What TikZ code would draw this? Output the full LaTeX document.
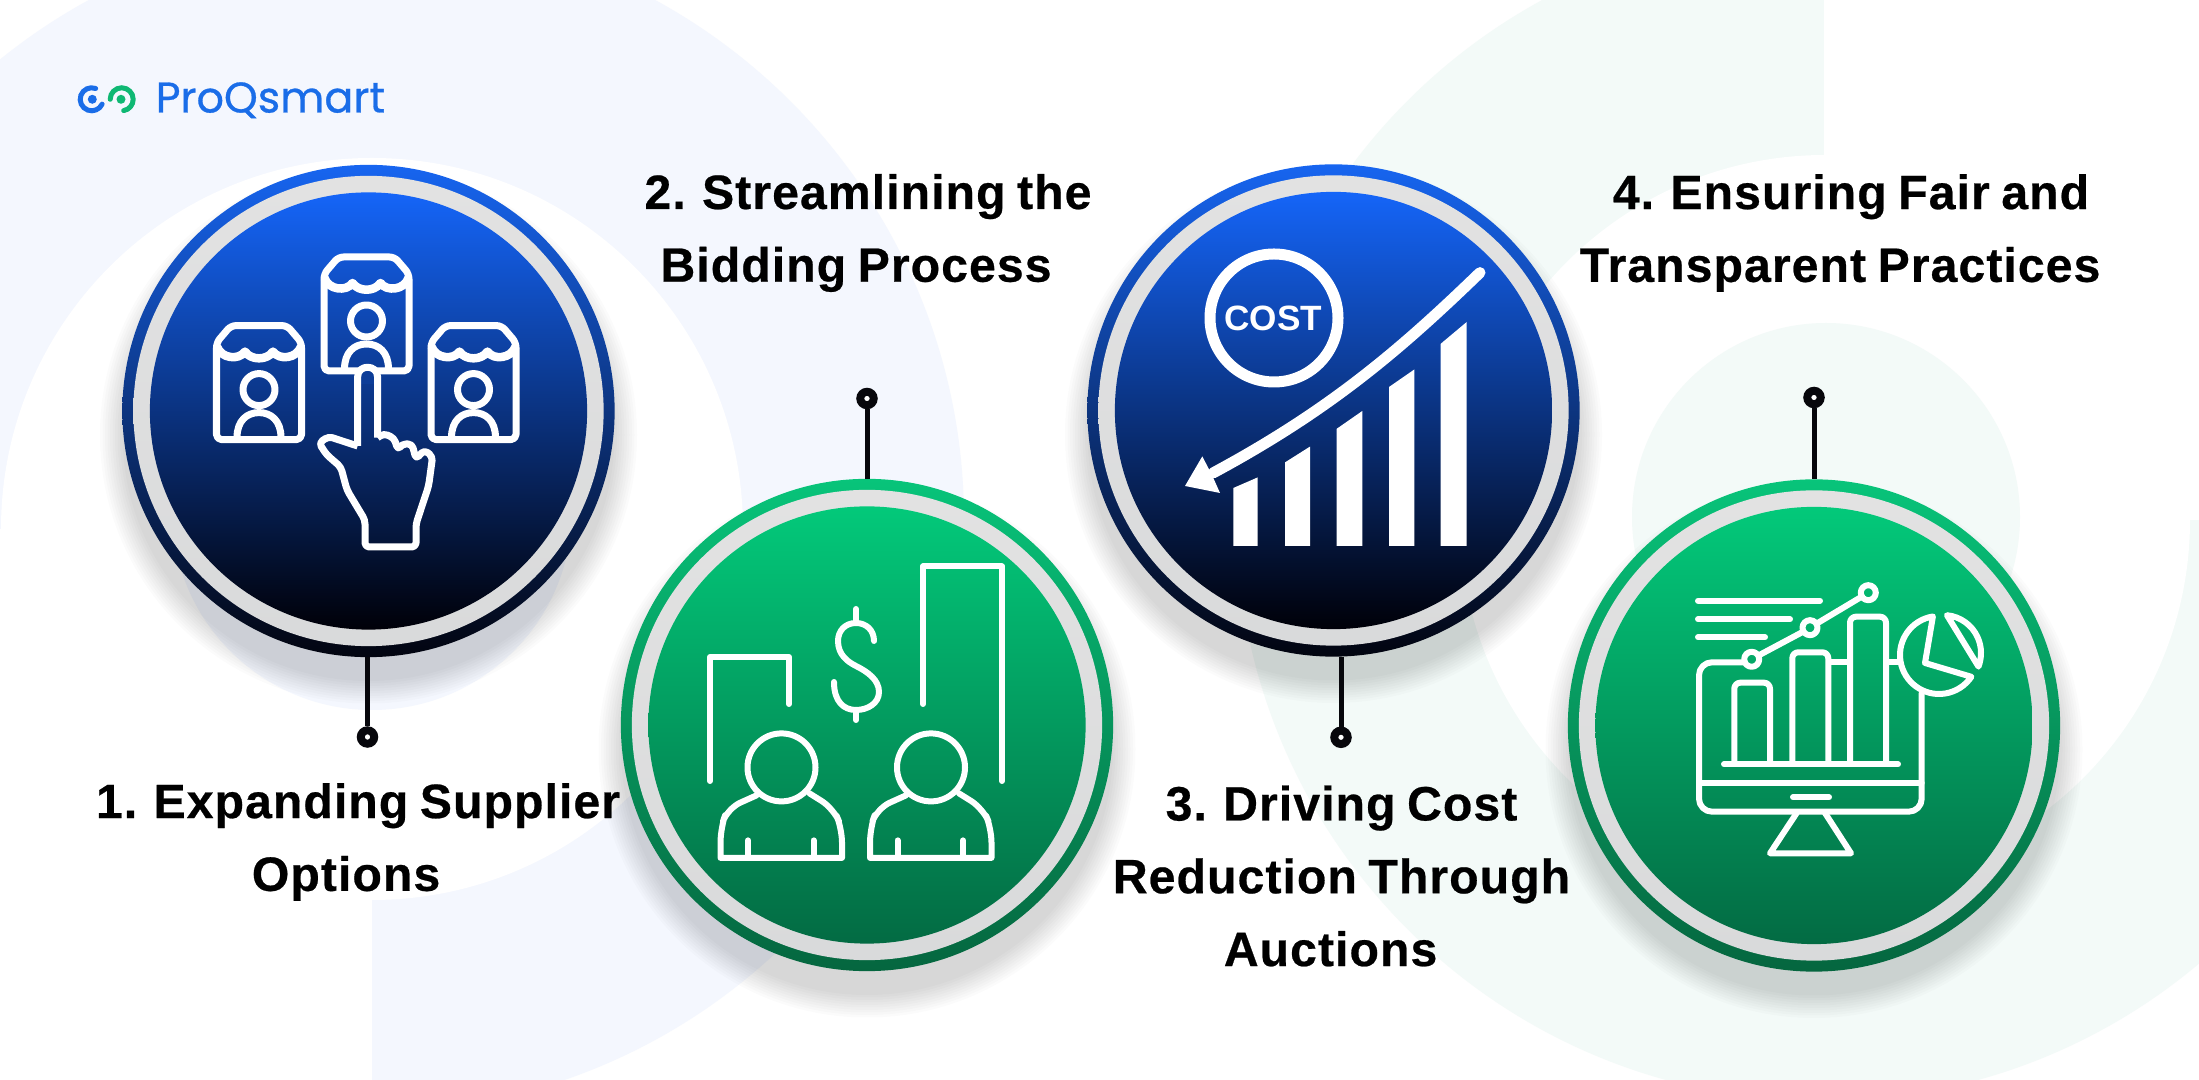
\documentclass[tikz,border=0pt]{standalone}
\usepackage{fontspec}
\setmainfont[BoldFeatures={FakeBold=0.5,LetterSpace=2.2,WordSpace=0.8}]{Liberation Sans}
\newfontfamily\logofont[FakeBold=0.7]{Poppins}
\newfontfamily\costfont{Liberation Sans Bold}
\definecolor{paleblue}{HTML}{F4F7FE}
\definecolor{palegreen}{HTML}{F3FAF8}
\definecolor{logoblue}{HTML}{1A6DE8}
\definecolor{logogreen}{HTML}{0FB873}
\definecolor{leader}{HTML}{07070C}
\definecolor{greytop}{HTML}{E2E2E2}
\definecolor{greyend}{HTML}{D9DADB}
\definecolor{ringbluetop}{HTML}{1765F0}
\definecolor{ringblueend}{HTML}{02040F}
\definecolor{corebluetop}{HTML}{1565F8}
\definecolor{coreblueend}{HTML}{000008}
\definecolor{ringgreentop}{HTML}{08C47A}
\definecolor{ringgreenend}{HTML}{05663F}
\definecolor{coregreentop}{HTML}{03C97A}
\definecolor{coregreenend}{HTML}{036B43}
\definecolor{fingerblue}{HTML}{0D3D98}
\tikzset{
	discbase/.style={circle,inner sep=0pt,outer sep=0pt},
	ring/.style={discbase,minimum size=4.92cm},
	greyring/.style={discbase,minimum size=4.70cm,top color=greytop,bottom color=greyend},
	core/.style={discbase,minimum size=4.37cm},
	bluering/.style={ring,top color=ringbluetop,bottom color=ringblueend},
	greenring/.style={ring,top color=ringgreentop,bottom color=ringgreenend},
	bluecore/.style={core,top color=corebluetop,bottom color=coreblueend},
	greencore/.style={core,top color=coregreentop,bottom color=coregreenend},
	leaderdot/.style={circle,draw=leader,fill=white,line width=0.08cm,minimum size=0.134cm,inner sep=0pt},
	leaderline/.style={draw=leader,line width=0.05cm},
	title/.style={align=center,font=\bfseries\fontsize{13.7}{20.7}\selectfont,text=black,inner sep=0pt},
	iconline/.style={draw=white,line width=0.06cm,line cap=round,line join=round},
	shopline/.style={draw=white,line width=0.07cm,line join=round},
	shop/.pic={
		\draw[shopline,rounded corners=0.05cm] (-42.5,-40) -- (-28,-57) -- (28,-57) -- (42.5,-40) -- (42.5,57) -- (-42.5,57) -- cycle;
		\draw[shopline,line width=0.085cm] (-42,-36) .. controls (-38,-24) and (-20,-22) .. (-14,-31) .. controls (-8,-22) and (8,-22) .. (14,-31) .. controls (20,-22) and (38,-24) .. (42,-36);
		\draw[shopline] (0,7) circle [radius=16];
		\draw[shopline] (-22,55) .. controls (-22,38) and (-12,30) .. (0,30) .. controls (12,30) and (22,38) .. (22,55);
	},
	person/.pic={
		\draw[iconline] (0,0) circle [radius=34];
		\draw[iconline,rounded corners=0.14cm] (-25,28) -- (-54,41) -- (-61,61) [sharp corners] -- (-61,90.5) -- (60.5,90.5) [rounded corners=0.14cm] -- (60.5,61) -- (52,41) -- (28,26);
		\draw[iconline] (-33.5,73) -- (-33.5,90.5) (32,73) -- (32,90.5);
	},
}
\begin{document}
\begin{tikzpicture}[x=0.01cm,y=-0.01cm]
	\useasboundingbox (0,0) rectangle (2199,1080);
	\fill[white] (0,0) rectangle (2199,1080);

	\fill[paleblue] (372,520) circle [radius=592];
	\fill[white] (372,529) circle [radius=371];
	\fill[white] (-10,529) rectangle (372,1090);
	\fill[paleblue] (372,510) circle [radius=200];

	\fill[palegreen] (1822,515) circle [radius=586];
	\fill[white] (1825,520) circle [radius=365];
	\fill[white] (1824,-10) rectangle (2210,520);
	\fill[palegreen] (1826,517) circle [radius=194];

	\foreach \cx/\cy in {368.5/411, 867/725, 1333.5/410.5, 1814/725.5}
		\foreach \r in {246,248.5,...,270}
			\fill[black,opacity=0.017] (\cx,\cy+24) circle [radius=\r];

	\node[bluering] (expand) at (368.5,411) {};
	\node[greyring] (expandgrey) at (expand) {};
	\node[bluecore] (expandcore) at (expand) {};
	\node[greenring] (bid) at (867,725) {};
	\node[greyring] (bidgrey) at (bid) {};
	\node[greencore] (bidcore) at (bid) {};
	\node[bluering] (cost) at (1333.5,410.5) {};
	\node[greyring] (costgrey) at (cost) {};
	\node[bluecore] (costcore) at (cost) {};
	\node[greenring] (fair) at (1814,725.5) {};
	\node[greyring] (fairgrey) at (fair) {};
	\node[greencore] (faircore) at (fair) {};

	\node[leaderdot] (expanddot) at (367.5,737) {};
	\node[leaderdot] (biddot) at (867,398.5) {};
	\node[leaderdot] (costdot) at (1341,737.3) {};
	\node[leaderdot] (fairdot) at (1814,397.5) {};

	\draw[leaderline] (expanddot) -- (expanddot |- expand.south);
	\draw[leaderline] (biddot) -- (biddot |- bid.north);
	\draw[leaderline] (costdot) -- (costdot |- cost.south);
	\draw[leaderline] (fairdot) -- (fairdot |- fair.north);

	\node[title] (expandtext) at (358,842) {1. Expanding Supplier\\Options\hspace*{6.8pt}};
	\node[title] (bidtext) at (868,233) {2. Streamlining the\\Bidding Process\hspace*{6.8pt}};
	\node[title] (costtext) at (1341.5,876) {3. Driving Cost\\Reduction Through\\Auctions\hspace*{6.2pt}};
	\node[title] (fairtext) at (1851,233) {4. Ensuring Fair and\\Transparent Practices\hspace*{6.2pt}};

	\node[anchor=base west,inner sep=0pt,text=logoblue,font=\logofont\fontsize{12.2}{14}\selectfont] (logotext) at (155,112.5) {ProQsmart};
	\draw[logoblue,line width=0.05cm,line cap=round] (91.7,99.3) ++(-70:11.5) arc [start angle=-70,end angle=-335,radius=11.5];
	\fill[logoblue] (92.3,99.3) circle [radius=4.5];
	\draw[logogreen,line width=0.05cm,line cap=round] (121.7,99.3) ++(180:11.5) arc [start angle=180,end angle=440,radius=11.5];
	\fill[logogreen] (121,99.3) circle [radius=4.5];

	\pic at (366.5,314) {shop};
	\pic at (259,382.6) {shop};
	\pic at (473.5,382.6) {shop};
	\fill[fingerblue] (359,364) rectangle (376,384);
	\draw[shopline,rounded corners=0.04cm] (357.6,446) -- (328.6,436.5) -- (319,443) -- (326.5,454.6) -- (340.8,467) -- (347,490) -- (365,520) -- (365,547) -- (416,547) -- (416,524) -- (428.6,486) -- (432.6,456.7) -- (424.5,450) -- (416,459) -- (412,444) -- (402,444) -- (398,450) -- (394,438) -- (383.7,433.5) -- (377.6,437.7);
	\draw[shopline] (357.6,446) -- (357.6,377) .. controls (357.6,364) and (377.6,364) .. (377.6,377) -- (377.6,437.7);

	\draw[iconline] (710,781) -- (710,657) -- (789,657) -- (789,704);
	\draw[iconline] (923,704) -- (923,566.5) -- (1002,566.5) -- (1002,781);
	\draw[iconline] (856,609) -- (856,623) (856,710) -- (856,720);
	\draw[iconline] (874,641) .. controls (874,630) and (866,623) .. (856,623) .. controls (845,623) and (838,631) .. (838,641) .. controls (838,655) and (848,662) .. (856,666) .. controls (868,672) and (879,680) .. (879,692) .. controls (879,703) and (868,710) .. (856,710) .. controls (844,710) and (834,702) .. (834,682);
	\pic at (781.5,767.4) {person};
	\pic at (931,767.4) {person};

	\draw[draw=white,line width=0.11cm] (1274,318) circle [radius=64];
	\node[text=white,font=\costfont\fontsize{10}{12}\selectfont,inner sep=0pt] (costword) at (1273.3,318) {COST};
	\fill[white] (1233.3,546) -- (1233.3,488) -- (1257.7,477.4) -- (1257.7,546) -- cycle;
	\fill[white] (1285,546) -- (1285,462.4) -- (1310,446.6) -- (1310,546) -- cycle;
	\fill[white] (1336.7,546) -- (1336.7,428.8) -- (1362.3,411) -- (1362.3,546) -- cycle;
	\fill[white] (1389,546) -- (1389,387) -- (1414.3,369.5) -- (1414.3,546) -- cycle;
	\fill[white] (1440.7,546) -- (1440.7,343.8) -- (1466.7,322) -- (1466.7,546) -- cycle;
	\draw[draw=white,line width=0.11cm,line cap=round] (1480,272.6) .. controls (1400,350) and (1330,410) .. (1213,473);
	\fill[white] (1185,486) -- (1202.3,456.4) -- (1212,475) -- (1220,493) -- cycle;

	\draw[iconline] (1698,600.7) -- (1820,600.7) (1698,619.3) -- (1790,619.3) (1698,637.3) -- (1765,637.3);
	\draw[iconline,rounded corners=0.13cm] (1745,662.3) -- (1699,662.3) -- (1699,811.7) -- (1921.7,811.7) -- (1921.7,693);
	\draw[iconline] (1699,782.7) -- (1921.7,782.7) (1793,797.3) -- (1829,797.3) (1724,764.3) -- (1898,764.3);
	\draw[iconline] (1830,662.3) -- (1848,662.3) (1888,662.3) -- (1898,662.3);
	\draw[iconline] (1796.7,813) -- (1770,853.3) -- (1851,853.3) -- (1825,813);
	\draw[iconline,rounded corners=0.06cm] (1734.3,764) -- (1734.3,682.7) -- (1770,682.7) -- (1770,764);
	\draw[iconline,rounded corners=0.06cm] (1792.3,764) -- (1792.3,652.3) -- (1828.3,652.3) -- (1828.3,764);
	\draw[iconline,rounded corners=0.06cm] (1850,764) -- (1850,616.7) -- (1886,616.7) -- (1886,764);
	\draw[iconline] (1751.7,659.3) circle [radius=7.5] (1810,627.7) circle [radius=7.5] (1868.3,592.7) circle [radius=7.5];
	\draw[iconline] (1758.5,655.5) -- (1803.5,631.5) (1816.5,623.7) -- (1862,596.5);
	\draw[iconline] (1939,655) ++(261:39) arc [start angle=261,end angle=34,radius=39] -- (1925,663) -- cycle;
	\draw[iconline] (1943,653) ++(-84:38) arc [start angle=-84,end angle=21,radius=38] -- cycle;
\end{tikzpicture}
\end{document}
